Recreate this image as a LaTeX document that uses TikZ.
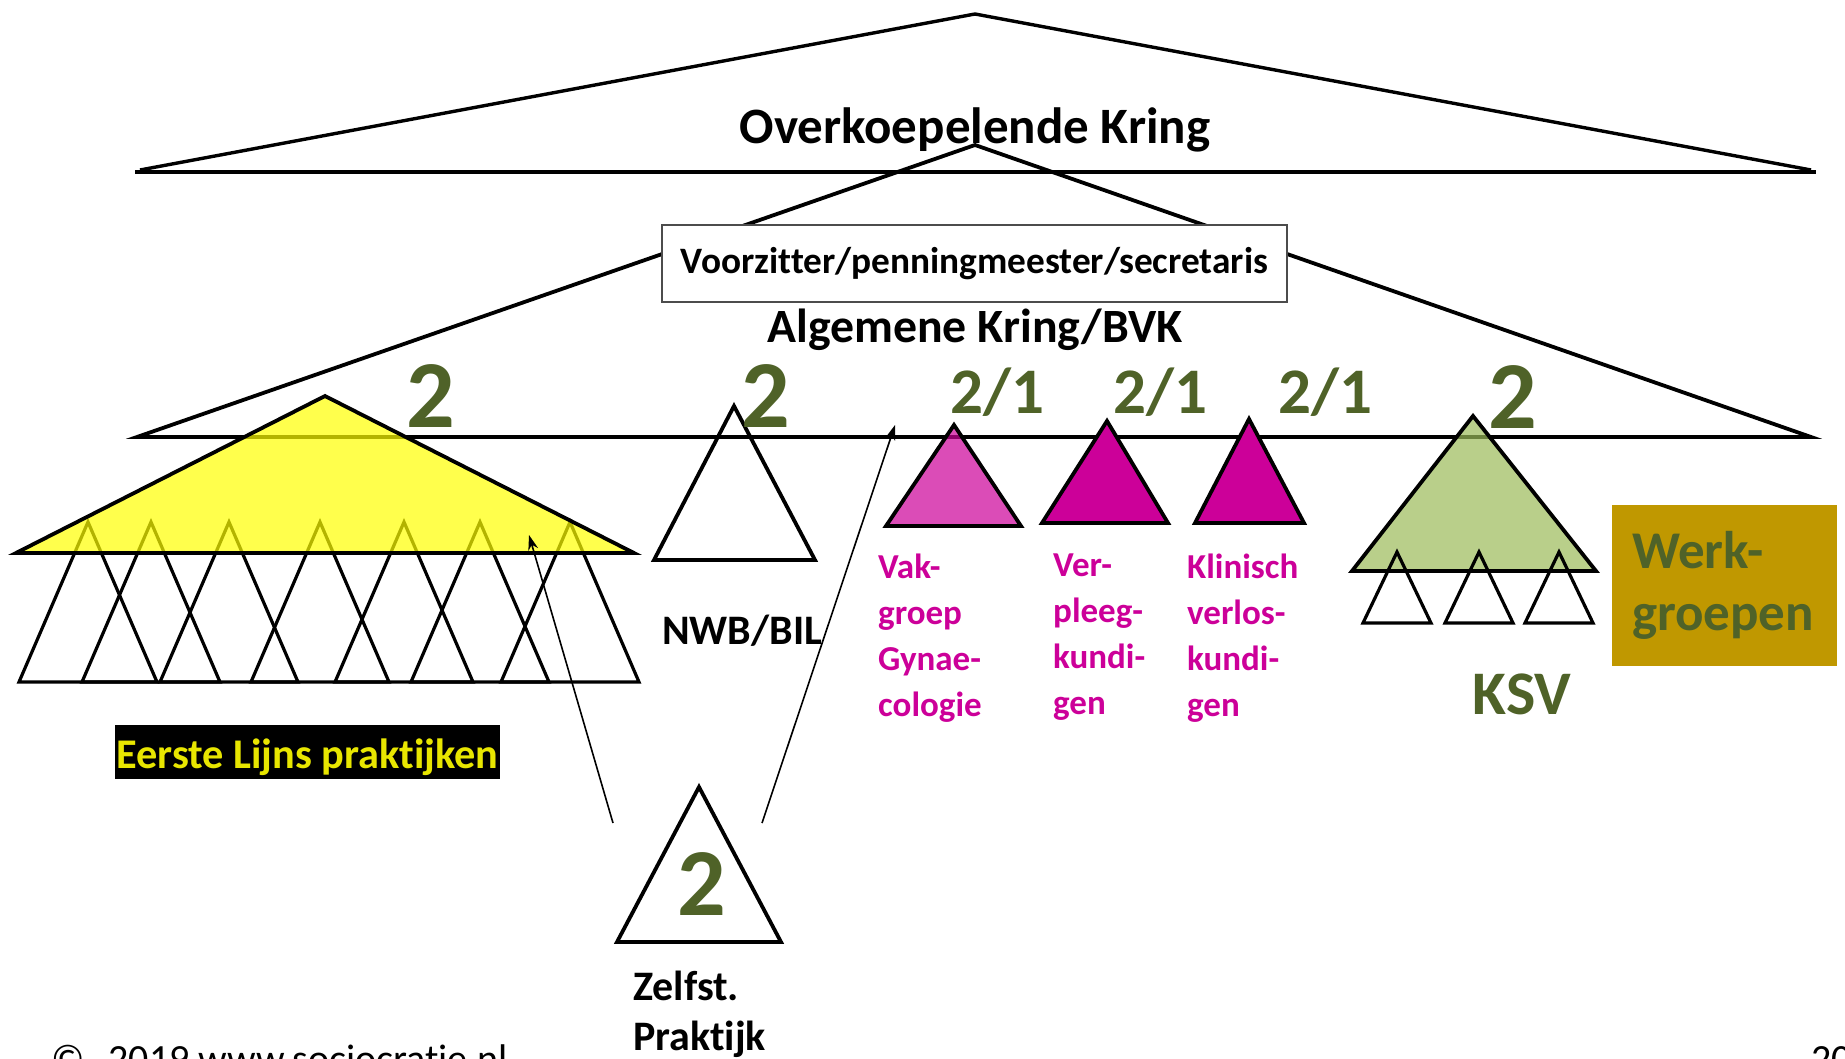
\documentclass[tikz,border=0pt]{standalone}
\usepackage{fontspec}
\setmainfont{Carlito}[Ligatures=NoCommon]
\usetikzlibrary{arrows.meta}

\definecolor{olijf}{RGB}{79,98,40}
\definecolor{paars}{RGB}{204,0,153}
\definecolor{groen}{RGB}{155,187,89}
\definecolor{goud}{RGB}{192,152,0}
\definecolor{geel}{RGB}{255,255,0}
\definecolor{geeltekst}{RGB}{232,230,0}

\begin{document}
\begin{tikzpicture}[x=1pt,y=-1pt]

		\tikzstyle{driehoek}=[draw=black,line width=3.8pt,miter limit=25]
		\tikzstyle{klein}=[draw=black,line width=3.2pt]
		\tikzstyle{kop}=[anchor=base,inner sep=0,font=\bfseries\fontsize{51}{61}\selectfont]
		\tikzstyle{groot}=[anchor=base,inner sep=0,text=olijf,font=\bfseries\fontsize{96}{110}\selectfont]
		\tikzstyle{breuk}=[anchor=base,inner sep=0,text=olijf,font=\bfseries\fontsize{65}{78}\selectfont]
		\tikzstyle{kring}=[anchor=north west,inner sep=0,align=left,text=paars,
			font=\bfseries\fontsize{35}{46}\selectfont]
		\tikzstyle{pijl}=[->,>={Stealth[length=15pt,width=10pt]},line width=1.6pt]

		\useasboundingbox (0,0) rectangle (1845,1059);

		\draw[line width=3.4pt] (140,170) -- (975,14) -- (1811,170);
		\draw[line width=4.5pt] (135,172) -- (1816,172);
		\draw[driehoek] (975,145) -- (1811,437) -- (137,437) -- cycle;

		\node[draw=black!70,line width=1.5pt,fill=white,minimum width=625pt,minimum height=77pt,inner sep=0,
			font=\bfseries\fontsize{37.3}{44}\selectfont] (bestuur) at (974.5,263.5) {Voorzitter/penningmeester/secretaris};

		\foreach \x in {88,151,229,320,404,480,570}
			\draw[klein] (\x,522) -- (\x+69,682) -- (\x-69,682) -- cycle;
		\draw[driehoek,fill=geel,fill opacity=0.7] (325,396) -- (634,553) -- (16,553) -- cycle;

		\draw[driehoek] (734,406) -- (815,560) -- (654,560) -- cycle;
		\draw[driehoek,fill=paars,fill opacity=0.7] (954,425) -- (1021,526) -- (886,526) -- cycle;
		\draw[driehoek,fill=paars] (1107,421) -- (1168,523) -- (1042,523) -- cycle;
		\draw[driehoek,fill=paars] (1249,419) -- (1304,523) -- (1195,523) -- cycle;

		\draw[driehoek,fill=groen,fill opacity=0.7] (1473,416) -- (1596,571) -- (1352,571) -- cycle;
		\foreach \x in {1397,1479,1559}
			\draw[klein] (\x,552) -- (\x+34,623) -- (\x-34,623) -- cycle;

		\draw[driehoek] (699,787) -- (781,942) -- (617,942) -- cycle;

		\coordinate (zp-links) at (613,823);
		\coordinate (zp-rechts) at (762,823);
		\coordinate (elp-in) at (529,535);
		\coordinate (bvk-in) at (895,425);
		\draw[pijl] (zp-links) -- (elp-in);
		\draw[pijl] (zp-rechts) -- (bvk-in);

		\node[kop] (overkoepelend) at (975,144) {Overkoepelende Kring};
		\node[kop,font=\bfseries\fontsize{47.8}{57}\selectfont] (algemeen) at (975,343) {Algemene Kring/BVK};

		\node[groot] (twee-elp) at (431,427) {2};
		\node[groot] (twee-nwb) at (766,427) {2};
		\node[groot] (twee-ksv) at (1513,428) {2};
		\node[groot] (twee-zp) at (702,915) {2};
		\node[breuk] (vak-stem) at (997,413) {2/1};
		\node[breuk] (ver-stem) at (1160,413) {2/1};
		\node[breuk] (kli-stem) at (1325,413) {2/1};

		\node[kop,font=\bfseries\fontsize{42}{50}\selectfont] (nwb) at (742,644) {NWB/BIL};
		\node[kring] (vakgroep) at (878,554) {Vak-\\groep\\Gynae-\\cologie};
		\node[kring] (verpleeg) at (1053,554) {Ver-\\pleeg-\\kundi-\\gen};
		\node[kring] (klinisch) at (1187,554) {Klinisch\\verlos-\\kundi-\\gen};

		\node[kop,text=olijf,font=\bfseries\fontsize{62}{72}\selectfont] (ksv) at (1522,714) {KSV};
		\node[fill=goud,minimum width=225pt,minimum height=161pt,inner xsep=20pt,text width=185pt,align=left,
			text=olijf,font=\bfseries\fontsize{53}{62}\selectfont] (werkgroepen) at (1724.5,585.5) {Werk-\\groepen};

		\node[kop,fill=black,text=geeltekst,inner xsep=1.5pt,text height=43pt,text depth=11pt,
			font=\bfseries\fontsize{42.3}{50}\selectfont] (eerstelijn) at (307.5,768) {Eerste Lijns praktijken};
		\node[anchor=north west,inner sep=0,align=left,font=\bfseries\fontsize{42}{50}\selectfont] (zelfstandig) at (633,971) {Zelfst.\\Praktijk};

		\node[anchor=base west,inner sep=0,font=\fontsize{40}{48}\selectfont] (copyright) at (51,1072) {©\hspace{24pt}2019 www.sociocratie.nl};
		\node[anchor=base west,inner sep=0,font=\fontsize{40}{48}\selectfont] (pagina) at (1811,1072) {20};

	\end{tikzpicture}
\end{document}
